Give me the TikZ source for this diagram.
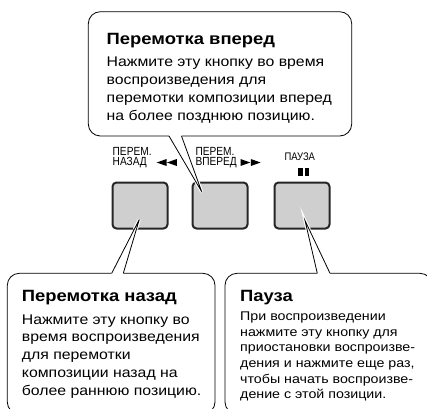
\documentclass[tikz,border=0pt]{standalone}
\usepackage{fontspec}
\usetikzlibrary{calc}
\setmainfont{Liberation Sans}
\newfontfamily\bodyf[FakeStretch=1.13]{Liberation Sans}
\newfontfamily\labf[FakeStretch=0.86]{Liberation Sans}
\begin{document}
\begin{tikzpicture}[x=1pt,y=-1pt,
  callout/.style={draw=black,fill=white,line width=0.8pt,rounded corners=12pt},
  btn/.style={draw=black!85,fill=black!19,line width=2pt,rounded corners=4pt,minimum width=55pt,minimum height=46pt,inner sep=0pt},
  ptr/.style={draw=black,line width=0.8pt,line join=miter},
  halo/.style={draw=white,line width=3pt},
  title/.style={anchor=base west,inner sep=0pt,font=\bodyf\bfseries\fontsize{16.3}{18}\selectfont},
  bodytext/.style={anchor=base west,inner sep=0pt,align=left},
  lab/.style={anchor=base west,inner sep=0pt,font=\labf\fontsize{11.8}{10.4}\selectfont,align=left},
  tri/.style={fill=black}]
\useasboundingbox (0,0) rectangle (427,408);
\clip (0,0) rectangle (427,408);

% buttons
\node[btn] (b1) at (140,205.5) {};
\node[btn] (b2) at (220,205.5) {};
\node[btn] (b3) at (302,205.5) {};

% labels
\node[lab] (l1a) at (112.5,155.3) {ПЕРЕМ.};
\node[lab] (l1b) at (112.5,165.7) {НАЗАД};
\node[lab] (l2a) at (195.3,155.3) {ПЕРЕМ.};
\node[lab] (l2b) at (195.3,165.7) {ВПЕРЕД};
\node[lab,font=\labf\fontsize{11}{10}\selectfont] (l3) at (284.3,160) {ПАУЗА};
% rewind / forward / pause symbols
\fill[tri] (156.7,162.5) -- (166.5,159) -- (166.5,166) -- cycle;
\fill[tri] (167,162.5) -- (176.8,159) -- (176.8,166) -- cycle;
\fill[tri] (250.3,162.5) -- (240.5,159) -- (240.5,166) -- cycle;
\fill[tri] (260.6,162.5) -- (250.8,159) -- (250.8,166) -- cycle;
\fill[tri] (298.3,168) rectangle (302.6,176);
\fill[tri] (305,168) rectangle (309.3,176);

% top callout
\coordinate (t1) at (201.7,191.7);
\coordinate (t1l) at (169,136);
\coordinate (t1r) at (181.5,136);
\coordinate (t1lu) at (169,132);
\coordinate (t1ru) at (181.5,132);
\path[callout] (88.3,11.7) rectangle (351.7,136);
\fill[white] (t1lu) -- (t1l) -- (t1) -- (t1r) -- (t1ru) -- cycle;
\draw[halo] ($(t1)!0.18!(t1l)$) -- (t1) -- ($(t1)!0.18!(t1r)$);
\fill[white] (t1l) -- (t1) -- (t1r) -- cycle;
\draw[ptr] (t1l) -- (t1) -- (t1r);
\node[title] (h1) at (106.5,44) {Перемотка вперед};
\node[bodytext,font=\bodyf\fontsize{14}{18}\selectfont] (x1) at (106.5,120) {Нажмите эту кнопку во время\\воспроизведения для\\перемотки композиции вперед\\на более позднюю позицию.};

% bottom left callout
\coordinate (t2) at (139.3,219.5);
\coordinate (t2l) at (111.7,273.3);
\coordinate (t2r) at (123.3,273.3);
\coordinate (t2ld) at (111.7,277.3);
\coordinate (t2rd) at (123.3,277.3);
\path[callout] (7.3,273.3) rectangle (215,414);
\fill[white] (t2ld) -- (t2l) -- (t2) -- (t2r) -- (t2rd) -- cycle;
\draw[halo] ($(t2)!0.18!(t2l)$) -- (t2) -- ($(t2)!0.18!(t2r)$);
\fill[white] (t2l) -- (t2) -- (t2r) -- cycle;
\draw[ptr] (t2l) -- (t2) -- (t2r);
\node[title] (h2) at (21.7,301.7) {Перемотка назад};
\node[bodytext,font=\bodyf\fontsize{14}{17.75}\selectfont] (x2) at (21.7,395) {Нажмите эту кнопку во\\время воспроизведения\\для перемотки\\композиции назад на\\более раннюю позицию.};

% bottom right callout
\coordinate (t3) at (305,220.5);
\coordinate (t3l) at (317.3,273.3);
\coordinate (t3r) at (330,273.3);
\coordinate (t3ld) at (317.3,277.3);
\coordinate (t3rd) at (330,277.3);
\path[callout] (225,273.3) rectangle (432,414);
\fill[white] (t3ld) -- (t3l) -- (t3) -- (t3r) -- (t3rd) -- cycle;
\draw[halo] ($(t3)!0.18!(t3l)$) -- (t3) -- ($(t3)!0.18!(t3r)$);
\fill[white] (t3l) -- (t3) -- (t3r) -- cycle;
\draw[ptr] (t3l) -- (t3) -- (t3r);
\node[title] (h3) at (240,301) {Пауза};
\node[bodytext,font=\bodyf\fontsize{12.6}{15.6}\selectfont] (x3) at (240,398.7) {При воспроизведении\\нажмите эту кнопку для\\приостановки воспроизве-\\дения и нажмите еще раз,\\чтобы начать воспроизве-\\дение с этой позиции.};
\end{tikzpicture}
\end{document}
